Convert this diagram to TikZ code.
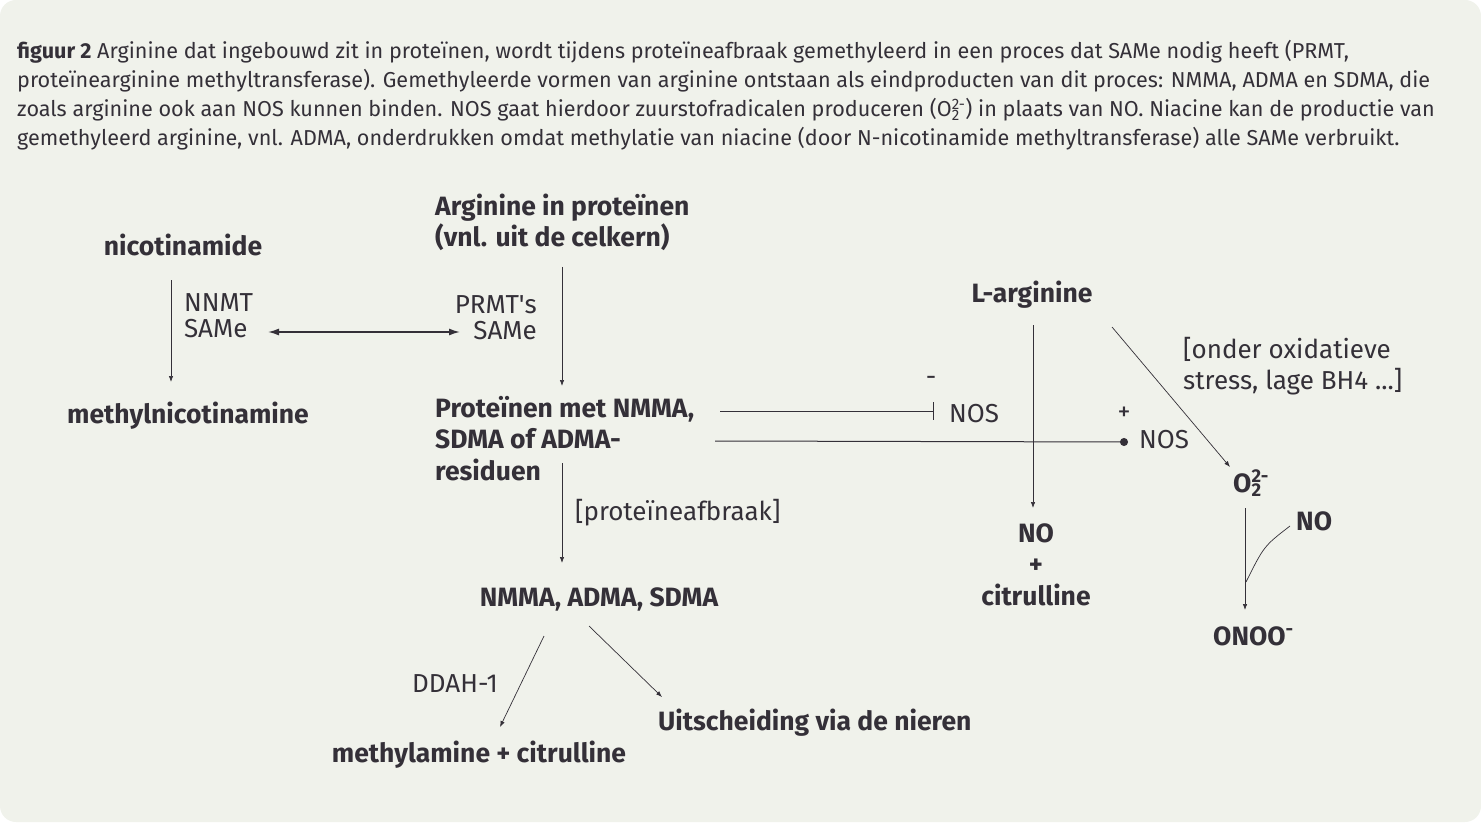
\documentclass[tikz,border=0pt]{standalone}
\usepackage{fontspec}
\setmainfont{Fira Sans}
\usetikzlibrary{positioning,arrows.meta,calc}
\definecolor{panelbg}{RGB}{240,242,235}
\definecolor{ink}{RGB}{52,48,56}

\begin{document}
\begin{tikzpicture}[
  x=1pt, y=-1pt,
  every node/.style={inner sep=0pt, text=ink},
  caption/.style={font=\fontsize{21.6}{29}\selectfont, align=left, anchor=base west},
  term/.style={font=\fontsize{26.5}{31.5}\selectfont\bfseries},
  enzyme/.style={font=\fontsize{26}{25.5}\selectfont},
  remark/.style={font=\fontsize{26}{31}\selectfont, align=left, anchor=base west},
  arrow/.style={-{Latex[length=6pt,width=4.5pt]}, line width=0.7pt, draw=ink},
  dblarrow/.style={{Latex[length=11pt,width=7pt]}-{Latex[length=11pt,width=7pt]}, line width=1.5pt, draw=ink},
  inhib/.style={-{Bar[width=18pt,line width=1.2pt]}, line width=1pt, draw=ink},
  activ/.style={-{Circle[length=8pt]}, line width=1pt, draw=ink},
]
\useasboundingbox (0,0) rectangle (1481,837);
\fill[panelbg, rounded corners=16pt] (0,0) rectangle (1481,822);

% ===== caption =====
\node[caption] (cap) at (17,146) {\textbf{figuur 2} Arginine dat ingebouwd zit in proteïnen, wordt tijdens proteïneafbraak gemethyleerd in een proces dat SAMe nodig heeft (PRMT,\\
proteïnearginine methyltransferase). Gemethyleerde vormen van arginine ontstaan als eindproducten van dit proces: NMMA, ADMA en SDMA, die\\
zoals arginine ook aan NOS kunnen binden. NOS gaat hierdoor zuurstofradicalen produceren (O\rlap{\textsubscript{2}}\textsuperscript{2-}) in plaats van NO. Niacine kan de productie van\\
gemethyleerd arginine, vnl. ADMA, onderdrukken omdat methylatie van niacine (door N-nicotinamide methyltransferase) alle SAMe verbruikt.};

% ===== left: niacine =====
\node[term, anchor=base] (nic) at (183,256) {nicotinamide};
\node[term, anchor=base] (mnic) at (188,423) {methylnicotinamine};
\node[enzyme, align=left, anchor=base west] (nnmt) at (184,337) {NNMT\\SAMe};

\draw[arrow] ($(nic.base)+(-12,24)$) -- ($(mnic.base)+(-17,-41)$);

% ===== middle: methylering =====
\node[term, align=left, anchor=base west] (arg) at (435,247) {Arginine in proteïnen\\(vnl. uit de celkern)};
\node[enzyme, align=right, anchor=base east] (prmt) at (537,339) {PRMT\textquotesingle s\\SAMe};
\node[term, align=left, anchor=base west] (prot) at (435,480) {Proteïnen met NMMA,\\SDMA of ADMA-\\residuen};
\node[enzyme, anchor=base west] (afbr) at (575,520) {[proteïneafbraak]};
\node[term, anchor=base] (nmma) at (599,606) {NMMA, ADMA, SDMA};
\node[enzyme, anchor=base west] (ddah) at (412,692) {DDAH-1};
\node[term, anchor=base] (meth) at (479,762) {methylamine + citrulline};
\node[term, anchor=base west] (uits) at (658,730) {Uitscheiding via de nieren};

\draw[dblarrow] ($(nnmt.base west)+(84,-5)$) -- ($(prmt.base east)+(-77,-7)$);
\draw[arrow] ($(arg.base west)+(127,20)$) -- ($(prot.base west)+(127,-94)$);
\draw[arrow] ($(prot.base west)+(127,-17)$) -- ($(nmma.base)+(-37,-43)$);
\draw[arrow] ($(nmma.base)+(-55,30)$) -- ($(meth.base)+(21,-35)$);
\draw[arrow] ($(nmma.base)+(-10,20)$) -- ($(uits.base west)+(4,-33)$);

% ===== right: NOS =====
\node[term, anchor=base] (larg) at (1032,302) {L-arginine};
\node[term, align=center, anchor=base] (nocit) at (1036,605) {NO\\+\\citrulline};
\node[enzyme, anchor=base west] (nos1) at (949,422) {NOS};
\node[enzyme, anchor=base west] (nos2) at (1139,448) {NOS};
\node[enzyme] (minus) at (931,381) {-};
\node[enzyme] (plus) at (1124,414) {+};
\node[remark] (stress) at (1183,389) {[onder oxidatieve\\stress, lage BH4 ...]};
\node[term, anchor=base west] (o2) at (1233,492) {O\rlap{\textsubscript{2}}\textsuperscript{2-}};
\node[term, anchor=base west] (no) at (1296,530) {NO};
\node[term, anchor=base west] (onoo) at (1213,645) {ONOO\textsuperscript{-}};

\draw[inhib] ($(prot.base west)+(285,-69)$) -- ($(nos1.base west)+(-15,-11)$);
\draw[activ] ($(prot.base west)+(280,-39)$) -- ($(nos2.base west)+(-11,-6)$);
\draw[arrow] ($(larg.base)+(1,23)$) -- ($(nocit.base)+(-3,-97)$);
\draw[arrow] ($(larg.base)+(80,25)$) -- ($(o2.base west)+(-3,-25)$);
\draw[arrow] ($(o2.base west)+(12,16)$) -- ($(onoo.base west)+(32,-35)$);
\draw[line width=0.7pt, draw=ink] ($(no.base west)+(-6,-4)$) .. controls ($(no.base west)+(-32,16)$) .. ($(o2.base west)+(13,90)$);
\end{tikzpicture}
\end{document}
